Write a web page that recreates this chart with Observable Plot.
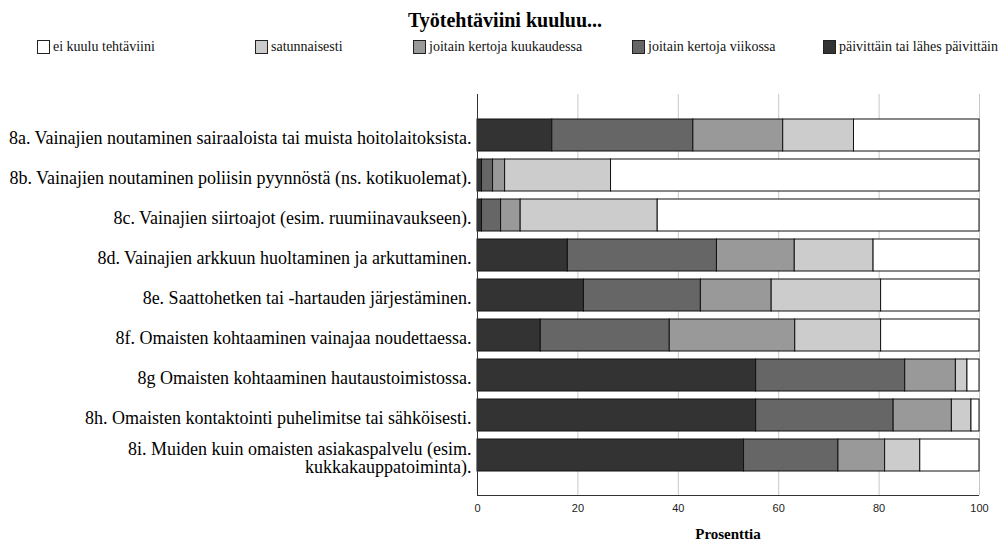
<!DOCTYPE html>
<html>
<head>
<meta charset="utf-8">
<script src="https://cdn.jsdelivr.net/npm/d3@7"></script>
<script src="https://cdn.jsdelivr.net/npm/@observablehq/plot@0.6"></script>
<style>
  html, body { margin: 0; padding: 0; background: #fff; }
  #wrap { position: relative; width: 1003px; height: 548px; overflow: hidden; }
  #head { position: relative; width: 1003px; height: 70px; font-family: "Liberation Serif", "Times New Roman", serif; }
  #title { position: absolute; left: 0; width: 1010px; top: 9px; text-align: center; font-weight: bold; font-size: 20px; color: #000; }
  .leg { position: absolute; top: 39px; font-size: 14px; color: #111; white-space: nowrap; display: flex; align-items: center; }
  .sw { display: inline-block; width: 13px; height: 14px; border: 1px solid #222; margin-right: 3px; box-sizing: border-box; }
  #xlabel { position: absolute; left: 477px; width: 502px; top: 526px; text-align: center; font-family: "Liberation Serif", serif; font-weight: bold; font-size: 15px; }
</style>
</head>
<body>
<div id="wrap">
  <div id="head">
    <div id="title">Työtehtäviini kuuluu...</div>
    <div id="legend"></div>
  </div>
  <div id="chart"></div>
  <div id="xlabel">Prosenttia</div>
</div>
<script>
const categories = [
  "8a. Vainajien noutaminen sairaaloista tai muista hoitolaitoksista.",
  "8b. Vainajien noutaminen poliisin pyynnöstä (ns. kotikuolemat).",
  "8c. Vainajien siirtoajot (esim. ruumiinavaukseen).",
  "8d. Vainajien arkkuun huoltaminen ja arkuttaminen.",
  "8e. Saattohetken tai -hartauden järjestäminen.",
  "8f. Omaisten kohtaaminen vainajaa noudettaessa.",
  "8g Omaisten kohtaaminen hautaustoimistossa.",
  "8h. Omaisten kontaktointi puhelimitse tai sähköisesti.",
  "8i. Muiden kuin omaisten asiakaspalvelu (esim.\nkukkakauppatoiminta)."
];
const seriesNames = [
  "päivittäin tai lähes päivittäin",
  "joitain kertoja viikossa",
  "joitain kertoja kuukaudessa",
  "satunnaisesti",
  "ei kuulu tehtäviini"
];
const legendOrder = [
  "ei kuulu tehtäviini",
  "satunnaisesti",
  "joitain kertoja kuukaudessa",
  "joitain kertoja viikossa",
  "päivittäin tai lähes päivittäin"
];
const paivittain   = [14.9, 0.9, 0.9, 18.0, 21.2, 12.6, 55.5, 55.5, 53.1];
const viikossa     = [28.1, 2.2, 3.8, 29.7, 23.3, 25.7, 29.7, 27.4, 18.8];
const kuukaudessa  = [17.9, 2.4, 3.9, 15.5, 14.1, 25.0, 10.1, 11.6, 9.3];
const satunnaisesti= [14.1, 21.1, 27.3, 15.7, 21.8, 17.1, 2.3, 3.9, 7.0];
const eiKuulu      = [25.0, 73.4, 64.1, 21.1, 19.6, 19.6, 2.4, 1.6, 11.8];
const xTicks = [0, 20, 40, 60, 80, 100];

const seriesValues = [paivittain, viikossa, kuukaudessa, satunnaisesti, eiKuulu];
const colors = ["#333333", "#666666", "#999999", "#cccccc", "#ffffff"];

const data = [];
seriesNames.forEach((s, si) => {
  categories.forEach((c, ci) => data.push({cat: c, series: s, value: seriesValues[si][ci]}));
});

// legend
const legendX = [37, 255, 413, 632, 823];
const legendEl = document.getElementById("legend");
legendOrder.forEach((name, i) => {
  const d = document.createElement("div");
  d.className = "leg";
  d.style.left = legendX[i] + "px";
  const sw = document.createElement("span");
  sw.className = "sw";
  sw.style.background = colors[seriesNames.indexOf(name)];
  d.appendChild(sw);
  d.appendChild(document.createTextNode(name));
  legendEl.appendChild(d);
});

const chart = Plot.plot({
  width: 1003,
  height: 478,
  marginLeft: 477,
  marginRight: 24,
  marginTop: 24,
  marginBottom: 53,
  style: {background: "#fff"},
  x: {domain: [0, 100], ticks: xTicks},
  y: {domain: categories, paddingInner: 0.2, paddingOuter: 0.58},
  color: {domain: seriesNames, range: colors},
  marks: [
    Plot.gridX(xTicks.slice(1), {stroke: "#c8c8c8", strokeOpacity: 1, strokeWidth: 1}),
    Plot.barX(data, Plot.stackX({
      y: "cat", x: "value", fill: "series", z: "series",
      order: seriesNames,
      stroke: "#111", strokeWidth: 1
    })),
    Plot.axisX({ticks: xTicks, tickSize: 0, tickPadding: 9, label: null,
      fontSize: 11, fontFamily: "'Liberation Sans', sans-serif", fill: "#222"}),
    Plot.axisY({tickSize: 0, tickPadding: 6, label: null, dy: 3,
      fontSize: 18, fontFamily: "'Liberation Serif', 'Times New Roman', serif", fill: "#000", lineHeight: 1.0}),
    Plot.ruleX([0], {stroke: "#333", strokeWidth: 1})
  ]
});
document.getElementById("chart").appendChild(chart);

// bottom axis line (frame bottom)
const svg = d3.select(chart);
svg.append("line")
  .attr("x1", 477).attr("x2", 979)
  .attr("y1", 425.5).attr("y2", 425.5)
  .attr("stroke", "#333");
</script>
</body>
</html>
